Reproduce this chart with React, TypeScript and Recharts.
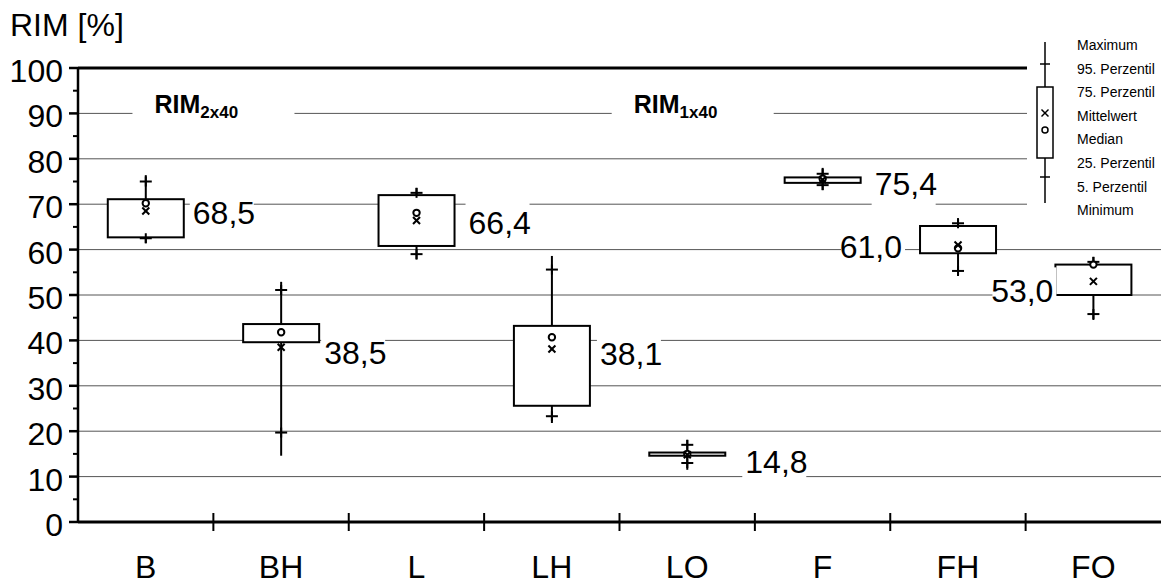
import { ComposedChart, Bar, XAxis, YAxis, CartesianGrid, Legend } from 'recharts';

const categories = ['B', 'BH', 'L', 'LH', 'LO', 'F', 'FH', 'FO'];
const minimum = [61.4, 14.6, 57.8, 21.8, 11.5, 73.1, 54.2, 44.5];
const perc5 = [62.5, 19.7, 59.0, 23.3, 13.0, 74.2, 55.3, 45.8];
const perc25 = [62.7, 39.6, 60.8, 25.6, 14.6, 74.7, 59.2, 50.0];
const median = [70.2, 41.8, 68.1, 40.7, 15.0, 75.6, 60.3, 56.7];
const perc75 = [71.1, 43.6, 72.0, 43.2, 15.3, 75.9, 65.2, 56.7];
const perc95 = [75.0, 51.1, 72.5, 55.6, 17.0, 76.7, 65.8, 57.3];
const maximum = [76.4, 52.9, 73.6, 58.6, 18.1, 78.0, 66.9, 58.4];
const mean = [68.5, 38.5, 66.4, 38.1, 14.8, 75.4, 61.0, 53.0];

const yTicks = [0, 5, 10, 15, 20, 25, 30, 35, 40, 45, 50, 55, 60, 65, 70, 75, 80, 85, 90, 95, 100];
const gridValues = [10, 20, 30, 40, 50, 60, 70, 80, 90];
const legendLabels = [
  'Maximum',
  '95. Perzentil',
  '75. Perzentil',
  'Mittelwert',
  'Median',
  '25. Perzentil',
  '5. Perzentil',
  'Minimum',
];
const groupHeaders = [
  { text: 'RIM', sub: '2x40', at: 'B' },
  { text: 'RIM', sub: '1x40', at: 'LO' },
];
const headerLevel = 90;

const W = 1161;
const H = 585;
const AXIS_W = 78;
const TOP = 68;
const X_AXIS_H = 63;
const BAND = (W - AXIS_W) / categories.length;
const FONT = "'Liberation Sans', Arial, sans-serif";

// where each mean label sits next to its box (side, gap in px, vertical nudge)
const labelPlace = [
  { side: 'right', gap: 9, dy: 1 },
  { side: 'right', gap: 5, dy: 5 },
  { side: 'right', gap: 14, dy: 2 },
  { side: 'right', gap: 10, dy: 4 },
  { side: 'right', gap: 20, dy: 7 },
  { side: 'right', gap: 14, dy: 4 },
  { side: 'left', gap: 18, dy: 1 },
  { side: 'left', gap: 2, dy: 9 },
];
// header offset from its category centre, in bands
const headerShift: Record<string, number> = { B: 0.5, LO: 0.04 };

const data = categories.map((name, i) => ({
  name,
  min: minimum[i],
  p5: perc5[i],
  q1: perc25[i],
  med: median[i],
  q3: perc75[i],
  p95: perc95[i],
  max: maximum[i],
  mean: mean[i],
}));

const fmt = (v: number) => v.toFixed(1).replace('.', ',');

const gridAt = (vals: number[]) => ({ yAxis, offset }: any) =>
  vals.map(v =>
    yAxis && typeof yAxis.scale === 'function'
      ? yAxis.scale(v)
      : offset.top + offset.height * (1 - v / 100)
  );

function BoxShape(props: any) {
  const { x, y, width, height, payload: d } = props;
  const i = categories.indexOf(d.name);
  const top = Math.min(y, y + height);
  const bottom = Math.max(y, y + height);
  const py = (v: number) => bottom - ((v - d.min) / (d.max - d.min)) * (bottom - top);
  const cx = x + width / 2;

  const place = labelPlace[i];
  const c = py(d.mean) + place.dy;
  const right = place.side === 'right';
  const tx = right ? x + width + place.gap : x - place.gap;
  const header = groupHeaders.find(h => h.at === d.name);
  const k = 3.5;

  return (
    <g>
      {header && (
        <g>
          <rect
            x={cx + headerShift[d.name] * BAND - 81}
            y={py(headerLevel) - 19}
            width={162}
            height={28}
            fill="#fff"
          />
          <text
            x={cx + headerShift[d.name] * BAND - 59}
            y={py(headerLevel)}
            fontSize={25}
            fontWeight="bold"
            fontFamily={FONT}
          >
            {header.text}
            <tspan fontSize={17} dy={5}>{header.sub}</tspan>
          </text>
        </g>
      )}
      <line x1={cx} x2={cx} y1={py(d.max)} y2={py(d.min)} stroke="#000" strokeWidth={2} />
      <rect
        x={x}
        y={py(d.q3)}
        width={width}
        height={py(d.q1) - py(d.q3)}
        fill="#fff"
        stroke="#000"
        strokeWidth={2}
      />
      <line x1={cx - 6} x2={cx + 6} y1={py(d.p95)} y2={py(d.p95)} stroke="#000" strokeWidth={2} />
      <line x1={cx - 6} x2={cx + 6} y1={py(d.p5)} y2={py(d.p5)} stroke="#000" strokeWidth={2} />
      <line x1={cx} x2={cx} y1={py(d.p95) - 5} y2={py(d.p95) + 5} stroke="#000" strokeWidth={2} />
      <line x1={cx} x2={cx} y1={py(d.p5) - 5} y2={py(d.p5) + 5} stroke="#000" strokeWidth={2} />
      <circle cx={cx} cy={py(d.med)} r={3.2} fill="#fff" stroke="#000" strokeWidth={2} />
      <line x1={cx - k} x2={cx + k} y1={py(d.mean) - k} y2={py(d.mean) + k} stroke="#000" strokeWidth={2} />
      <line x1={cx - k} x2={cx + k} y1={py(d.mean) + k} y2={py(d.mean) - k} stroke="#000" strokeWidth={2} />
      <rect x={right ? tx - 3 : tx - 61} y={c - 23} width={64} height={46} fill="#fff" />
      <text
        x={tx}
        y={c + 11.5}
        textAnchor={right ? 'start' : 'end'}
        fontSize={32}
        fontFamily={FONT}
      >
        {fmt(d.mean)}
      </text>
    </g>
  );
}

function YTick({ x, y, payload }: any) {
  const v = payload.value;
  if (v % 10 !== 0) {
    return <line x1={x - 5} x2={x} y1={y} y2={y} stroke="#000" strokeWidth={2} />;
  }
  return (
    <g>
      <line x1={x - 9} x2={x} y1={y} y2={y} stroke="#000" strokeWidth={2.5} />
      <text x={x - 15} y={y + 14} textAnchor="end" fontSize={32} fontFamily={FONT}>
        {v}
      </text>
    </g>
  );
}

function XTick({ x, y, payload }: any) {
  const i = categories.indexOf(payload.value);
  const edge = x - BAND / 2;
  return (
    <g>
      {i > 0 && <line x1={edge} x2={edge} y1={y - 9} y2={y + 9} stroke="#000" strokeWidth={2} />}
      <text x={x} y={y + 56} textAnchor="middle" fontSize={32} fontFamily={FONT}>
        {payload.value}
      </text>
    </g>
  );
}

function BoxKey() {
  const lx = 18;
  const k = 3.5;
  return (
    <svg width={134} height={183} style={{ display: 'block' }}>
      <line x1={lx} x2={lx} y1={7} y2={168} stroke="#000" strokeWidth={1.5} />
      <line x1={lx - 5} x2={lx + 5} y1={29} y2={29} stroke="#000" strokeWidth={1.5} />
      <line x1={lx - 5} x2={lx + 5} y1={142} y2={142} stroke="#000" strokeWidth={1.5} />
      <rect x={lx - 8} y={52} width={16} height={71} fill="#fff" stroke="#000" strokeWidth={1.5} />
      <line x1={lx - k} x2={lx + k} y1={78 - k} y2={78 + k} stroke="#000" strokeWidth={1.5} />
      <line x1={lx - k} x2={lx + k} y1={78 + k} y2={78 - k} stroke="#000" strokeWidth={1.5} />
      <circle cx={lx} cy={95} r={3} fill="#fff" stroke="#000" strokeWidth={1.5} />
      {legendLabels.map((t, i) => (
        <text key={t} x={50} y={15 + i * 23.6} fontSize={14} fontFamily={FONT}>
          {t}
        </text>
      ))}
    </svg>
  );
}

export default function App() {
  return (
    <div style={{ position: 'absolute', left: 0, top: 0, width: W, height: H, background: '#fff' }}>
      <ComposedChart
        width={W}
        height={H}
        data={data}
        margin={{ top: TOP, right: 0, bottom: 0, left: 0 }}
        barCategoryGap="22%"
      >
        <CartesianGrid vertical={false} stroke="#555" horizontalCoordinatesGenerator={gridAt(gridValues)} />
        <CartesianGrid
          vertical={false}
          stroke="#000"
          strokeWidth={3}
          horizontalCoordinatesGenerator={gridAt([100])}
        />
        <XAxis
          dataKey="name"
          height={X_AXIS_H}
          interval={0}
          tickSize={0}
          tickMargin={0}
          tickLine={false}
          tick={XTick}
          axisLine={{ stroke: '#000', strokeWidth: 3 }}
        />
        <YAxis
          domain={[0, 100]}
          ticks={yTicks}
          interval={0}
          width={AXIS_W}
          tickSize={0}
          tickMargin={0}
          tickLine={false}
          tick={YTick}
          axisLine={{ stroke: '#000', strokeWidth: 2.5 }}
        />
        <Bar
          dataKey={(d: any) => [d.min, d.max]}
          shape={BoxShape}
          isAnimationActive={false}
        />
        <Legend
          layout="horizontal"
          verticalAlign="middle"
          align="center"
          content={() => <BoxKey />}
          wrapperStyle={{ left: 1027, top: 35, width: 134, height: 183, background: '#fff' }}
        />
      </ComposedChart>
      <svg
        width={200}
        height={50}
        style={{ position: 'absolute', left: 0, top: 0 }}
      >
        <text x={10} y={36} fontSize={32} fontFamily={FONT}>
          RIM [%]
        </text>
      </svg>
    </div>
  );
}
